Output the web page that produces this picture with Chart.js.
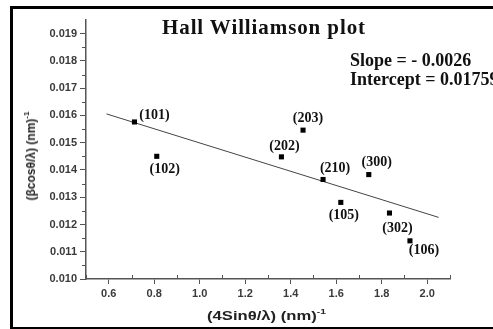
<!DOCTYPE html>
<html>
<head>
<meta charset="utf-8">
<script src="https://cdn.jsdelivr.net/npm/chart.js@4.4.1/dist/chart.umd.min.js"></script>
<style>
  html, body { margin: 0; padding: 0; background: #fff; overflow: hidden; }
  #wrap { position: relative; width: 493px; height: 329px; overflow: hidden; }
  #frame { position: absolute; left: 10px; top: 6px; width: 600px; height: 318px; border: 3px solid #000; }
  canvas { position: absolute; left: 0; top: 0; }
  .txt { position: absolute; white-space: nowrap; color: #111; }
  .serif { font-family: "Liberation Serif", "Times New Roman", serif; font-weight: bold; }
  .sans { font-family: "Liberation Sans", Arial, sans-serif; font-weight: bold; font-size: 13px; color: #222; }
  sup { font-size: 8px; vertical-align: 6px; line-height: 0; }
</style>
</head>
<body>
<div id="wrap">
  <div id="frame"></div>
  <canvas id="chart" width="493" height="329"></canvas>
  <div class="txt serif" style="left:162px; top:15px; font-size:21px; letter-spacing:0.9px;">Hall Williamson plot</div>
  <div class="txt serif" style="left:350px; top:50px; font-size:18px;">Slope = - 0.0026</div>
  <div class="txt serif" style="left:350px; top:69px; font-size:18px;">Intercept = 0.01759</div>
  <div class="txt sans" style="left:207px; top:308px; transform: scaleX(1.28); transform-origin: left center;">(4Sinθ/λ) (nm)<sup>-1</sup></div>
  <div class="txt sans" style="left:31px; top:156px; font-size:12px; transform: translate(-50%,-50%) rotate(-90deg);">(βcosθ/λ) (nm)<sup>-1</sup></div>
</div>
<script>
// measured values
const planes = ['(101)', '(102)', '(203)', '(202)', '(210)', '(300)', '(105)', '(302)', '(106)'];
const xVals = [0.713, 0.811, 1.454, 1.359, 1.542, 1.743, 1.620, 1.834, 1.924];
const yVals = [0.01576, 0.01450, 0.01546, 0.01448, 0.01365, 0.01383, 0.01281, 0.01242, 0.01140];

// linear fit y = intercept + slope*x
const slope = -0.0026;
const intercept = 0.01759;
const fitX = [0.59, 2.05];

const xTicks = [0.6, 0.8, 1.0, 1.2, 1.4, 1.6, 1.8, 2.0];
const yTicks = [0.010, 0.011, 0.012, 0.013, 0.014, 0.015, 0.016, 0.017, 0.018, 0.019];

// label offsets from each point (px), label centred
const labelOffsets = [[20, -7], [8, 13], [5, -12], [3, -10], [12, -11], [8, -12], [3, 13], [8, 15], [14, 10]];

const axisColor = '#555';

const pointLabels = {
    id: 'pointLabels',
    afterDatasetsDraw(chart) {
        const ctx = chart.ctx;
        const xs = chart.scales.x, ys = chart.scales.y;
        ctx.save();
        ctx.font = 'bold 14px "Liberation Serif", serif';
        ctx.fillStyle = '#111';
        ctx.textAlign = 'center';
        ctx.textBaseline = 'middle';
        planes.forEach((p, i) => {
            const px = xs.getPixelForValue(xVals[i]) + labelOffsets[i][0];
            const py = ys.getPixelForValue(yVals[i]) + labelOffsets[i][1];
            ctx.fillText(p, px, py);
        });
        ctx.restore();
    }
};

const minorTicks = {
    id: 'minorTicks',
    afterDraw(chart) {
        const ctx = chart.ctx;
        const xs = chart.scales.x, ys = chart.scales.y;
        const area = chart.chartArea;
        ctx.save();
        ctx.strokeStyle = axisColor;
        ctx.lineWidth = 1;
        ctx.beginPath();
        for (let v = 0.5; v <= 2.1001; v += 0.2) {
            const px = Math.round(xs.getPixelForValue(v)) + 0.5;
            ctx.moveTo(px, area.bottom);
            ctx.lineTo(px, area.bottom - 4);
        }
        for (let v = 0.0105; v <= 0.0195; v += 0.001) {
            const py = Math.round(ys.getPixelForValue(v)) + 0.5;
            ctx.moveTo(area.left, py);
            ctx.lineTo(area.left - 4, py);
        }
        ctx.stroke();
        ctx.restore();
    }
};

new Chart(document.getElementById('chart'), {
    type: 'scatter',
    data: {
        datasets: [
            {
                label: 'data',
                data: xVals.map((x, i) => ({ x: x, y: yVals[i] })),
                pointStyle: 'rect',
                pointRadius: 3.6,
                backgroundColor: '#000',
                borderWidth: 0
            },
            {
                label: 'fit',
                type: 'line',
                data: fitX.map(x => ({ x: x, y: intercept + slope * x })),
                borderColor: '#444',
                borderWidth: 1,
                pointRadius: 0,
                fill: false
            }
        ]
    },
    options: {
        responsive: false,
        animation: false,
        events: [],
        layout: { padding: { top: 20, right: 43, left: 0, bottom: 0 } },
        plugins: { legend: { display: false }, tooltip: { enabled: false } },
        scales: {
            x: {
                type: 'linear',
                min: 0.5,
                max: 2.1,
                afterBuildTicks: s => { s.ticks = xTicks.map(v => ({ value: v })); },
                afterFit: s => { s.height = 50; },
                grid: { drawOnChartArea: false, drawTicks: true, tickLength: 5, color: axisColor, lineWidth: 1 },
                border: { display: true, color: axisColor, width: 1.5 },
                ticks: {
                    padding: 3,
                    color: '#3a3a3a',
                    font: { family: '"Liberation Sans", Arial, sans-serif', size: 11, weight: 'bold' },
                    callback: v => v.toFixed(1)
                }
            },
            y: {
                type: 'linear',
                min: 0.010,
                max: 0.0195,
                afterBuildTicks: s => { s.ticks = yTicks.map(v => ({ value: v })); },
                afterFit: s => { s.width = 86; },
                grid: { drawOnChartArea: false, drawTicks: true, tickLength: 6, color: axisColor, lineWidth: 1 },
                border: { display: true, color: axisColor, width: 1.5 },
                ticks: {
                    padding: 3,
                    color: '#3a3a3a',
                    font: { family: '"Liberation Sans", Arial, sans-serif', size: 11, weight: 'bold' },
                    callback: v => v.toFixed(3)
                }
            }
        }
    },
    plugins: [pointLabels, minorTicks]
});
</script>
</body>
</html>
